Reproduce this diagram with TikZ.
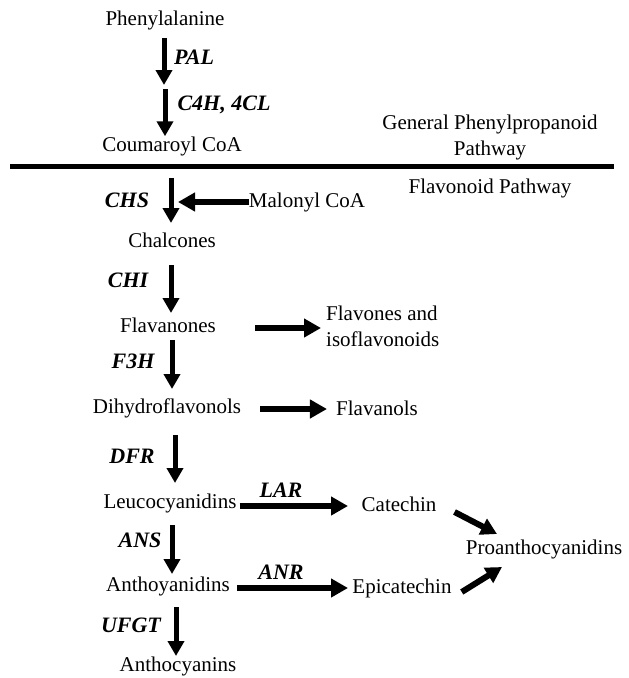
\documentclass[tikz,border=0pt]{standalone}
\usepackage{fontspec}
\setmainfont{Liberation Serif}
\usetikzlibrary{arrows.meta}
\tikzset{
  lbl/.style={inner sep=0pt, font=\fontsize{21}{26}\selectfont},
  enz/.style={inner sep=0pt, font=\fontsize{22}{24}\selectfont\bfseries\itshape},
  varr/.style={line width=5pt, -{Triangle[width=16pt,length=15pt]}},
  harr/.style={line width=6pt, -{Triangle[width=18pt,length=17pt]}},
  darr/.style={line width=6pt, -{Triangle[width=17pt,length=16pt]}},
}
\begin{document}
\begin{tikzpicture}[x=1pt,y=-1pt]
\useasboundingbox (0,0) rectangle (629,678);
\fill[white] (0,0) rectangle (629,678);

% main metabolites
\node[lbl] (phe)  at (165,20)  {Phenylalanine};
\node[lbl] (coum) at (172,146) {Coumaroyl CoA};
\node[lbl] (mal)  at (307,202) {Malonyl CoA};
\node[lbl] (chal) at (172,240) {Chalcones};
\node[lbl] (flvn) at (168,325) {Flavanones};
\node[lbl, align=left, anchor=west] (flvs) at (326,326) {Flavones and\\isoflavonoids};
\node[lbl] (dhf)  at (167,408) {Dihydroflavonols};
\node[lbl] (flvl) at (377,408) {Flavanols};
\node[lbl] (leu)  at (170,503) {Leucocyanidins};
\node[lbl] (cat)  at (399,504) {Catechin};
\node[lbl] (pro)  at (544,549) {Proanthocyanidins};
\node[lbl] (antho) at (168,586) {Anthoyanidins};
\node[lbl] (epi)  at (402,588) {Epicatechin};
\node[lbl] (anc)  at (178,666) {Anthocyanins};

% pathway labels
\node[lbl, align=center] (gpp) at (490,137) {General Phenylpropanoid\\Pathway};
\node[lbl] (fp) at (490,188) {Flavonoid Pathway};

% enzymes
\node[enz] (pal)  at (194,57)  {PAL};
\node[enz] (c4h)  at (224,105) {C4H, 4CL};
\node[enz] (chs)  at (127,200) {CHS};
\node[enz] (chi)  at (128,280) {CHI};
\node[enz] (f3h)  at (133,361) {F3H};
\node[enz] (dfr)  at (132,456) {DFR};
\node[enz] (lar)  at (281,490) {LAR};
\node[enz] (ans)  at (140,540) {ANS};
\node[enz] (anr)  at (281,572) {ANR};
\node[enz] (ufgt) at (131,625) {UFGT};

% divider
\coordinate (ll) at (10,166);
\coordinate (lr) at (614,166);
\draw[line width=5pt] (ll) -- (lr);

% vertical arrows
\draw[varr] (phe.south -| 164,0) ++(0,8) -- (164,85);
\draw[varr] (165,89) -- (coum.north -| 165,0);
\draw[varr] (171,178) -- (171,223);
\draw[varr] (171,265) -- (171,313);
\draw[varr] (172,340) -- (172,389);
\draw[varr] (175,435) -- (175,483);
\draw[varr] (172,525) -- (172,574);
\draw[varr] (176,607) -- (176,656);

% horizontal arrows
\draw[harr] (mal.west) -- (178,202);
\draw[harr] (255,328) -- ([xshift=-5pt]flvs.west |- 0,328);
\draw[harr] (260,409) -- ([xshift=-9pt]flvl.west |- 0,409);
\draw[harr] (leu.east |- 0,506) ++(3,0) -- (348,506);
\draw[harr] (antho.east |- 0,588) ++(7,0) -- (348,588);

% diagonal arrows
\draw[darr] (cat.east) ++(18,8) -- (497,534);
\draw[darr] (epi.east) ++(10,4) -- (502,567);
\end{tikzpicture}
\end{document}
